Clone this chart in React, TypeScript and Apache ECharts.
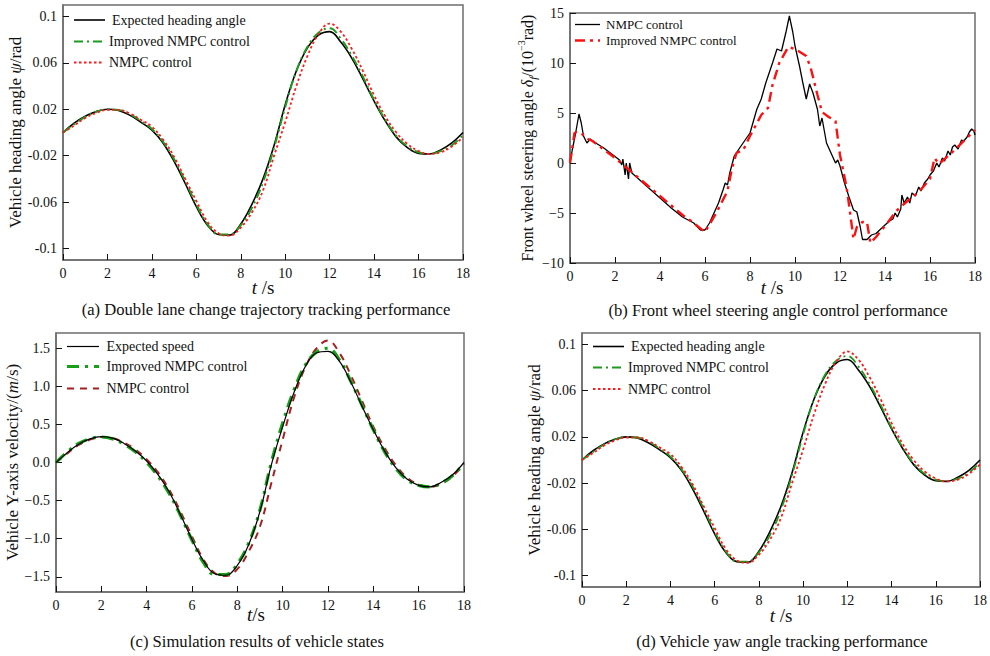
import React, { useEffect, useRef } from 'react';
import * as echarts from 'echarts';

// ---------- shared time grid (s) ----------
const T = [0, 0.5, 1, 1.5, 2, 2.5, 3, 3.5, 4, 4.5, 5, 5.5, 6, 6.5, 7, 7.5, 8, 8.5, 9, 9.5, 10, 10.5, 11, 11.5, 12, 12.5, 13, 13.5, 14, 14.5, 15, 15.5, 16, 16.5, 17, 17.5, 18];

// ---------- (a)/(d) heading angle (rad) ----------
const headingExpected = [0.0, 0.008, 0.014, 0.018, 0.020, 0.019, 0.015, 0.009, 0.002, -0.009, -0.025, -0.044, -0.064, -0.080, -0.088, -0.0885, -0.079, -0.062, -0.040, -0.011, 0.024, 0.053, 0.073, 0.084, 0.087, 0.078, 0.064, 0.046, 0.027, 0.010, -0.004, -0.013, -0.018, -0.0185, -0.015, -0.009, 0.0];
const headingImproved = [0.0, 0.007, 0.0135, 0.018, 0.020, 0.0195, 0.016, 0.010, 0.003, -0.008, -0.023, -0.042, -0.062, -0.079, -0.088, -0.088, -0.080, -0.065, -0.043, -0.013, 0.022, 0.053, 0.074, 0.086, 0.090, 0.081, 0.066, 0.048, 0.028, 0.011, -0.003, -0.012, -0.017, -0.0185, -0.016, -0.011, -0.002];
const headingNmpc = [0.0, 0.006, 0.0125, 0.017, 0.0195, 0.0195, 0.0165, 0.011, 0.005, -0.006, -0.021, -0.040, -0.059, -0.077, -0.087, -0.089, -0.082, -0.069, -0.050, -0.020, 0.009, 0.040, 0.066, 0.085, 0.094, 0.087, 0.072, 0.053, 0.032, 0.014, 0.0, -0.010, -0.016, -0.0185, -0.017, -0.012, -0.004];

// ---------- (c) lateral velocity (m/s) ----------
const velExpected = [0.0, 0.13, 0.24, 0.31, 0.34, 0.32, 0.25, 0.15, 0.02, -0.16, -0.39, -0.69, -1.01, -1.29, -1.46, -1.48, -1.35, -1.08, -0.64, -0.03, 0.47, 0.92, 1.26, 1.44, 1.46, 1.33, 1.06, 0.74, 0.43, 0.15, -0.07, -0.22, -0.30, -0.32, -0.26, -0.16, 0.0];
const velImproved = [0.0, 0.14, 0.25, 0.31, 0.335, 0.31, 0.24, 0.14, 0.0, -0.18, -0.41, -0.70, -1.02, -1.31, -1.47, -1.47, -1.33, -1.06, -0.62, 0.0, 0.52, 0.95, 1.28, 1.45, 1.50, 1.35, 1.07, 0.75, 0.43, 0.14, -0.08, -0.23, -0.30, -0.32, -0.27, -0.17, -0.01];
const velNmpc = [0.0, 0.12, 0.23, 0.30, 0.335, 0.32, 0.26, 0.17, 0.04, -0.13, -0.36, -0.65, -0.97, -1.27, -1.45, -1.49, -1.40, -1.17, -0.84, -0.27, 0.30, 0.85, 1.25, 1.50, 1.60, 1.44, 1.15, 0.81, 0.47, 0.19, -0.04, -0.20, -0.29, -0.32, -0.28, -0.18, -0.02];

// ---------- (b) front wheel steering angle (1e-3 rad) ----------
const steerNmpcT = [0, 0.1, 0.25, 0.4, 0.5, 0.6, 0.75, 0.9, 1.0, 1.5, 2.0, 2.2, 2.3, 2.35, 2.45, 2.5, 2.6, 2.65, 2.75, 3.0, 3.5, 4.0, 4.5, 5.0, 5.5, 5.8, 6.0, 6.2, 6.4, 6.6, 6.8, 6.9, 7.0, 7.1, 7.3, 7.6, 8.0, 8.3, 8.5, 8.7, 9.0, 9.2, 9.4, 9.6, 9.75, 9.9, 10.0, 10.2, 10.35, 10.5, 10.65, 10.8, 11.0, 11.1, 11.2, 11.4, 11.6, 11.8, 11.9, 12.0, 12.2, 12.4, 12.6, 12.75, 12.9, 13.0, 13.2, 13.4, 13.6, 14.0, 14.2, 14.35, 14.45, 14.55, 14.7, 14.75, 14.85, 15.0, 15.1, 15.2, 15.35, 15.5, 15.6, 15.75, 15.9, 16.0, 16.15, 16.3, 16.4, 16.55, 16.65, 16.8, 16.9, 17.0, 17.1, 17.25, 17.4, 17.5, 17.65, 17.75, 17.85, 17.95, 18.0];
const steerNmpc = [0, 1.3, 3.0, 4.9, 4.0, 2.7, 2.0, 2.4, 2.2, 1.5, 0.65, 0.3, -0.2, 0.4, -1.2, 0.0, -1.6, 0.0, -1.0, -1.5, -2.5, -3.5, -4.5, -5.4, -6.0, -6.7, -6.7, -6.0, -5.0, -4.0, -2.7, -2.0, -2.2, -1.0, 0.7, 1.7, 3.0, 5.35, 6.4, 8.0, 10.0, 11.4, 11.2, 13.1, 14.7, 13.1, 11.7, 9.7, 8.0, 6.4, 7.9, 7.0, 5.35, 3.7, 4.5, 2.0, 1.0, 0.0, 0.3, -0.3, -2.0, -3.4, -4.7, -4.9, -6.4, -7.65, -7.65, -7.2, -7.05, -6.2, -5.8, -5.6, -5.0, -5.4, -4.6, -3.2, -4.0, -3.4, -4.0, -3.0, -3.3, -2.4, -2.8, -2.0, -1.6, -1.2, -0.8, 0.0, -0.4, 0.5, 0.2, 1.2, 0.8, 1.6, 1.8, 1.4, 2.3, 2.2, 2.6, 3.1, 3.4, 3.2, 2.8];
const steerImprovedT = [0, 0.2, 0.3, 0.5, 0.7, 1.0, 2.0, 3.0, 4.0, 5.0, 5.5, 6.0, 6.5, 7.0, 7.2, 7.4, 7.7, 8.0, 8.5, 8.8, 9.0, 9.3, 9.7, 10.0, 10.5, 10.7, 11.0, 11.2, 11.5, 11.8, 12.0, 12.3, 12.45, 12.6, 12.75, 13.0, 13.2, 13.35, 13.6, 14.0, 14.5, 15.0, 15.5, 16.0, 16.2, 16.4, 17.0, 17.5, 18.0];
const steerImproved = [0, 3.0, 3.1, 3.0, 2.5, 2.2, 0.5, -1.4, -3.3, -5.2, -6.0, -6.9, -5.0, -2.8, -0.5, 1.0, 1.3, 2.7, 4.8, 5.5, 7.8, 10.0, 11.6, 11.4, 10.7, 9.5, 6.8, 5.1, 4.6, 4.2, 0.8, -2.5, -5.0, -7.6, -6.4, -5.9, -5.9, -8.0, -7.4, -6.3, -4.8, -3.8, -2.9, -1.6, 0.5, -0.1, 1.1, 2.2, 3.3];

// ---------- tick values ----------
const xTicks = [0, 2, 4, 6, 8, 10, 12, 14, 16, 18];
const headingTicks = [-0.1, -0.06, -0.02, 0.02, 0.06, 0.1];
const velTicks = [-1.5, -1.0, -0.5, 0.0, 0.5, 1.0, 1.5];

const FONT = '"Liberation Serif", "Times New Roman", serif';
const FRAME = '#6e6e6e';

const pairs = (t: number[], v: number[]) => t.map((x, i) => [x, v[i]]);

function xAxisCfg(gridIndex: number) {
  return {
    type: 'value', gridIndex, min: 0, max: 18, interval: 2,
    axisLine: { show: true, onZero: false, lineStyle: { color: FRAME, width: 1.5 } },
    axisTick: { show: true, inside: true, length: 6, lineStyle: { color: '#111' } },
    axisLabel: { fontFamily: FONT, fontSize: 14, color: '#111', margin: 6, customValues: xTicks },
    splitLine: { show: false },
  };
}

const fmtHeading = (v: number) => {
  const r = Math.round(v * 100) / 100;
  return String(r);
};
const fmtVel = (v: number) => {
  const s = Math.abs(v).toFixed(1);
  return v < -1e-9 ? '\u2212' + s : s;
};

export default function App() {
  const ref = useRef<HTMLDivElement>(null);
  useEffect(() => {
    if (!ref.current) return;
    const chart = echarts.init(ref.current, undefined, { renderer: 'svg' });

    const headingY = (gridIndex: number, nameGap: number) => ({
      type: 'value', gridIndex, min: -0.11, max: 0.11,
      name: 'Vehicle heading angle {i|\u03c8}/rad', nameLocation: 'middle', nameGap, nameRotate: 90,
      nameTextStyle: { fontFamily: FONT, fontSize: 17, color: '#111', rich: { i: { fontFamily: FONT, fontSize: 17, fontStyle: 'italic', color: '#111' } } },
      axisLine: { show: true, onZero: false, lineStyle: { color: FRAME, width: 1.5 } },
      axisTick: { show: true, inside: true, length: 6, lineStyle: { color: '#111' }, customValues: headingTicks },
      axisLabel: { fontFamily: FONT, fontSize: 14, color: '#111', margin: 6, customValues: headingTicks, formatter: fmtHeading },
      splitLine: { show: false },
    });

    const grids = [
      { left: 63, top: 5, width: 400, height: 255 },
      { left: 570, top: 13, width: 405, height: 250 },
      { left: 56, top: 333, width: 408, height: 259 },
      { left: 582, top: 333, width: 400, height: 254 },
    ].map((g) => ({ ...g, show: true, borderColor: FRAME, borderWidth: 1.5, containLabel: false }));

    const line = (name: string, xi: number, data: number[][], color: string, width: number, type: any, smooth: boolean | number, z = 2) => ({
      type: 'line', name, xAxisIndex: xi, yAxisIndex: xi, data, showSymbol: false, symbol: 'none', smooth, z,
      lineStyle: { color, width, type }, silent: true,
    });

    const DASHDOT = [9, 4, 2, 4];
    const DOT = [2.5, 2.5];

    const legend = (items: { x: number; y: number; x2: number; tx: number; color: string; width: number; dash: number[] | null; text: string; fs: number }[]) =>
      items.flatMap((it) => [
        { type: 'line', shape: { x1: it.x, y1: it.y, x2: it.x2, y2: it.y }, style: { stroke: it.color, lineWidth: it.width, lineDash: it.dash || undefined } },
        { type: 'text', style: { text: it.text, x: it.tx, y: it.y, fontFamily: FONT, fontSize: it.fs, fill: '#111', verticalAlign: 'middle', align: 'left' } },
      ]);

    const caption = (text: string, x: number, y: number) => ({
      type: 'text', style: { text, x, y, fontFamily: FONT, fontSize: 16.6, fill: '#111', align: 'center', verticalAlign: 'middle' },
    });

    const xName = (text: string, x: number, y: number) => ({
      type: 'text',
      style: {
        text, x, y, align: 'center', verticalAlign: 'middle', fontFamily: FONT, fontSize: 19, fill: '#111',
        rich: {
          i: { fontFamily: FONT, fontSize: 19, fontStyle: 'italic', fill: '#111' },
          n: { fontFamily: FONT, fontSize: 19, fill: '#111' },
        },
      },
    });

    const option: any = {
      animation: false,
      textStyle: { fontFamily: FONT },
      grid: grids,
      xAxis: [xAxisCfg(0), xAxisCfg(1), xAxisCfg(2), xAxisCfg(3)],
      yAxis: [
        headingY(0, 36),
        {
          type: 'value', gridIndex: 1, min: -10, max: 15, interval: 5,
          name: 'Front wheel steering angle {i|\u03b4}{sub|f}/(10{sup|\u22123}rad)', nameLocation: 'middle', nameGap: 23, nameRotate: 90,
          nameTextStyle: {
            fontFamily: FONT, fontSize: 16, color: '#111', lineHeight: 22,
            rich: {
              i: { fontFamily: FONT, fontSize: 16, fontStyle: 'italic', color: '#111', lineHeight: 22 },
              sub: { fontFamily: FONT, fontSize: 11, fontStyle: 'italic', color: '#111', verticalAlign: 'bottom', lineHeight: 22 },
              sup: { fontFamily: FONT, fontSize: 10, color: '#111', verticalAlign: 'top', lineHeight: 22 },
            },
          },
          axisLine: { show: true, onZero: false, lineStyle: { color: FRAME, width: 1.5 } },
          axisTick: { show: true, inside: true, length: 6, lineStyle: { color: '#111' } },
          axisLabel: { fontFamily: FONT, fontSize: 14, color: '#111', margin: 6, formatter: (v: number) => (v < 0 ? '\u2212' + Math.abs(v) : String(v)) },
          splitLine: { show: false },
        },
        {
          type: 'value', gridIndex: 2, min: -1.7, max: 1.7,
          name: 'Vehicle Y-axis velocity/({i|m}/s)', nameLocation: 'middle', nameGap: 29, nameRotate: 90,
          nameTextStyle: { fontFamily: FONT, fontSize: 17, color: '#111', rich: { i: { fontFamily: FONT, fontSize: 17, fontStyle: 'italic', color: '#111' } } },
          axisLine: { show: true, onZero: false, lineStyle: { color: FRAME, width: 1.5 } },
          axisTick: { show: true, inside: true, length: 6, lineStyle: { color: '#111' }, customValues: velTicks },
          axisLabel: { fontFamily: FONT, fontSize: 14, color: '#111', margin: 6, customValues: velTicks, formatter: fmtVel },
          splitLine: { show: false },
        },
        headingY(3, 35),
      ],
      series: [
        line('Expected heading angle', 0, pairs(T, headingExpected), '#000000', 1.6, 'solid', 0.4, 3),
        line('Improved NMPC control', 0, pairs(T, headingImproved), '#1f9a1f', 2, DASHDOT, 0.4, 4),
        line('NMPC control', 0, pairs(T, headingNmpc), '#ff1a1a', 1.8, DOT, 0.4, 5),

        line('NMPC control', 1, pairs(steerNmpcT, steerNmpc), '#000000', 1.3, 'solid', false, 3),
        line('Improved NMPC control', 1, pairs(steerImprovedT, steerImproved), '#ff1010', 2.4, [10, 5, 3, 5], false, 4),

        line('Expected speed', 2, pairs(T, velExpected), '#000000', 1.2, 'solid', 0.4, 5),
        line('Improved NMPC control', 2, pairs(T, velImproved), '#16a016', 3.2, [12, 6, 3, 6], 0.4, 4),
        line('NMPC control', 2, pairs(T, velNmpc), '#a52020', 2, [7, 6], 0.4, 3),

        line('Expected heading angle', 3, pairs(T, headingExpected), '#000000', 1.6, 'solid', 0.4, 3),
        line('Improved NMPC control', 3, pairs(T, headingImproved), '#1f9a1f', 1.8, DASHDOT, 0.4, 4),
        line('NMPC control', 3, pairs(T, headingNmpc), '#ff1a1a', 1.8, DOT, 0.4, 5),
      ],
      graphic: [
        ...legend([
          { x: 74, y: 20, x2: 105, tx: 112, color: '#000', width: 1.6, dash: null, text: 'Expected heading angle', fs: 14 },
          { x: 74, y: 41.5, x2: 103, tx: 109, color: '#1f9a1f', width: 2, dash: DASHDOT, text: 'Improved NMPC control', fs: 14 },
          { x: 74, y: 62.5, x2: 103, tx: 109, color: '#ff1a1a', width: 1.8, dash: DOT, text: 'NMPC control', fs: 14 },

          { x: 575, y: 24.5, x2: 600, tx: 606, color: '#000', width: 1.3, dash: null, text: 'NMPC control', fs: 13 },
          { x: 575, y: 40.5, x2: 600, tx: 606, color: '#ff1010', width: 2.4, dash: [10, 5, 3, 5], text: 'Improved NMPC control', fs: 13 },

          { x: 67, y: 346.5, x2: 99, tx: 106.5, color: '#000', width: 1.2, dash: null, text: 'Expected speed', fs: 14 },
          { x: 67, y: 366.5, x2: 99, tx: 106.5, color: '#16a016', width: 3.2, dash: [12, 6, 3, 6], text: 'Improved NMPC control', fs: 14 },
          { x: 67, y: 388.5, x2: 99, tx: 106.5, color: '#a52020', width: 2, dash: [7, 6], text: 'NMPC control', fs: 14 },

          { x: 593, y: 346.5, x2: 624, tx: 631, color: '#000', width: 1.6, dash: null, text: 'Expected heading angle', fs: 14 },
          { x: 593, y: 367.5, x2: 622, tx: 628, color: '#1f9a1f', width: 1.8, dash: DASHDOT, text: 'Improved NMPC control', fs: 14 },
          { x: 593, y: 389, x2: 622, tx: 628, color: '#ff1a1a', width: 1.8, dash: DOT, text: 'NMPC control', fs: 14 },
        ]),
        xName('{i|t}{n| /s}', 263, 287),
        xName('{i|t}{n| /s}', 772, 287),
        xName('{i|t}{n|/s}', 256, 614),
        xName('{i|t}{n| /s}', 781, 615),
        caption('(a) Double lane change trajectory tracking performance', 266, 309),
        caption('(b) Front wheel steering angle control performance', 778, 310),
        caption('(c) Simulation results of vehicle states', 257, 641),
        caption('(d) Vehicle yaw angle tracking performance', 782, 641),
      ],
    };

    chart.setOption(option);
    return () => chart.dispose();
  }, []);

  return <div ref={ref} style={{ position: 'absolute', left: 0, top: 0, width: 990, height: 656, background: '#fff' }} />;
}
